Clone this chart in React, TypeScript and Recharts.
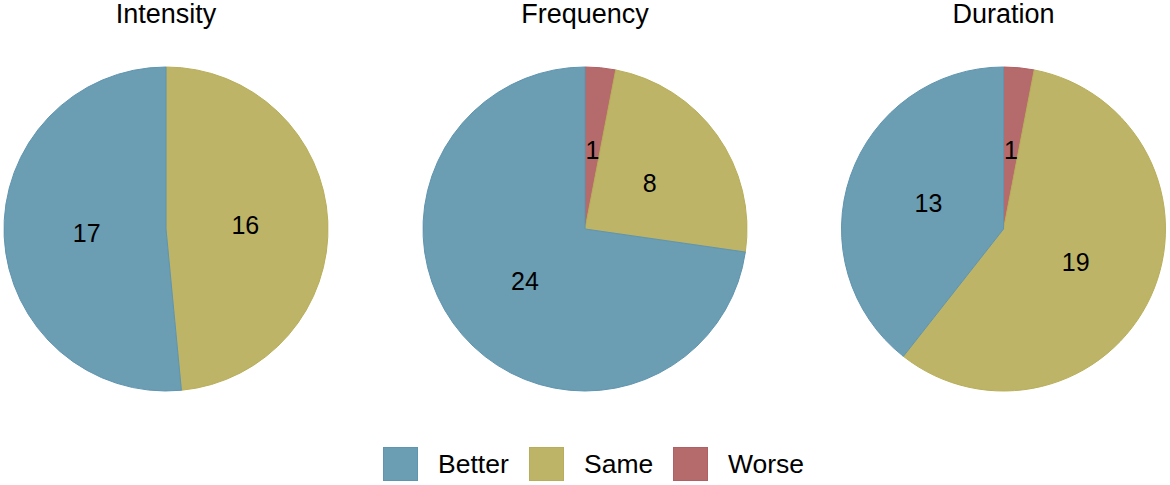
import React from 'react';
import { PieChart, Pie, Cell } from 'recharts';

// categories in drawing order (clockwise from 12 o'clock)
const categories = ['Worse', 'Same', 'Better'];
const legendOrder = ['Better', 'Same', 'Worse'];
const colors: Record<string, string> = {
  Better: '#6b9db3',
  Same: '#bdb467',
  Worse: '#b56b6b',
};
const edges: Record<string, string> = {
  Better: '#5f95b0',
  Same: '#b8ae5a',
  Worse: '#b05f63',
};

const titles = ['Intensity', 'Frequency', 'Duration'];
const intensity = [0, 16, 17];
const frequency = [1, 8, 24];
const duration = [1, 19, 13];

const panels = [intensity, frequency, duration];
const centersX = [166, 585, 1003.5];
const CY = 229;
const R = 162;
const FONT = 'Liberation Sans, Arial, sans-serif';
const RADIAN = Math.PI / 180;

const renderLabel = (props: any) => {
  const { cx, cy, midAngle, outerRadius, value } = props;
  if (!value) return null;
  const r = outerRadius * 0.49;
  const x = cx + r * Math.cos(-midAngle * RADIAN);
  const y = cy + r * Math.sin(-midAngle * RADIAN);
  return (
    <text
      x={x}
      y={y}
      textAnchor="middle"
      dominantBaseline="central"
      fill="#000"
      fontSize={25}
      fontFamily={FONT}
    >
      {value}
    </text>
  );
};

export default function App() {
  const legendX = [383, 529, 673];
  return (
    <div style={{ position: 'absolute', left: 0, top: 0, width: 1170, height: 485, background: '#fff', fontFamily: FONT }}>
      <PieChart width={1170} height={485} margin={{ top: 0, right: 0, bottom: 0, left: 0 }}>
        {panels.map((vals, i) => (
          <Pie
            key={titles[i]}
            data={categories.map((c, j) => ({ name: c, value: vals[j] }))}
            dataKey="value"
            nameKey="name"
            cx={centersX[i]}
            cy={CY}
            outerRadius={R}
            startAngle={90}
            endAngle={-270}
            labelLine={false}
            label={renderLabel}
            isAnimationActive={false}
          >
            {categories.map((c) => (
              <Cell key={c} fill={colors[c]} stroke={edges[c]} strokeWidth={1} />
            ))}
          </Pie>
        ))}
      </PieChart>
      {titles.map((t, i) => (
        <div
          key={t}
          style={{
            position: 'absolute',
            top: 1,
            left: centersX[i] - 150,
            width: 300,
            textAlign: 'center',
            fontSize: 27,
            lineHeight: '27px',
            color: '#000',
          }}
        >
          {t}
        </div>
      ))}
      {legendOrder.map((c, i) => (
        <div
          key={c}
          style={{ position: 'absolute', left: legendX[i], top: 447, display: 'flex', alignItems: 'center' }}
        >
          <div
            style={{
              width: 33,
              height: 32,
              background: colors[c],
              border: `1px solid ${edges[c]}`,
            }}
          />
          <span style={{ marginLeft: 20, fontSize: 26.5, lineHeight: '34px', color: '#000' }}>{c}</span>
        </div>
      ))}
    </div>
  );
}
